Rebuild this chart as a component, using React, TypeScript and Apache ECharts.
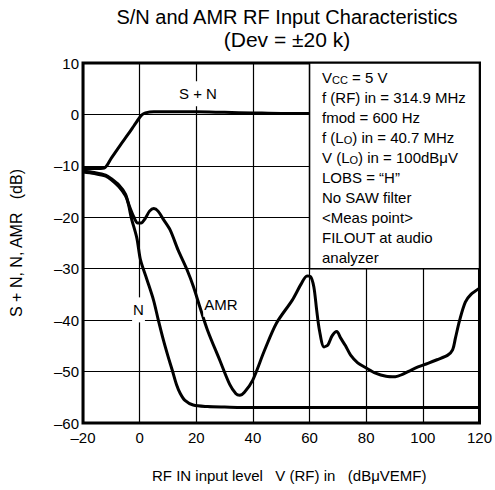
import React, { useEffect, useRef } from "react";
import * as echarts from "echarts";

const xTicks = [-20, 0, 20, 40, 60, 80, 100, 120];
const yTicks = [-60, -50, -40, -30, -20, -10, 0, 10];

const snX = [-20, -16, -12.5, -10, -7, -4, -2, 0, 1, 2, 5, 10, 20, 30, 40, 50, 60];
const snY = [-10.5, -10.5, -10.4, -8.5, -6.1, -3.8, -2.2, -0.6, 0, 0.3, 0.5, 0.5, 0.5, 0.4, 0.3, 0.2, 0.2];

const nX = [-20, -16, -12, -10, -7.4, -5, -3.9, -3, -1, 0.3, 2.5, 4.9, 6.6, 8.4, 10, 11.5, 13, 14.3, 16, 18.9, 24, 30, 40, 60, 80, 100, 120];
const nY = [-11, -11.3, -11.8, -12.5, -13.7, -15.5, -17.6, -20, -24, -28.3, -32, -36.1, -40, -43.9, -47, -49.7, -52.5, -54.2, -55.6, -56.5, -56.8, -56.9, -57, -57, -57, -57, -57];

const amrX = [-20, -16, -12, -10, -7.4, -5, -3.5, -2, -0.7, 0.5, 2, 3.5, 5, 6.5, 8.5, 10.8, 13.6, 16.8, 19, 21.3, 24, 28.3, 31.8, 34, 35.3, 37, 39.9, 44, 48.3, 53.9, 57, 59.1, 60.3, 61.5, 62.5, 63.5, 65.1, 66.5, 68, 69.6, 71, 72.7, 74.5, 77, 80, 83.3, 87, 90.3, 93, 95.9, 98.3, 101.8, 105, 108.8, 110.5, 111.5, 113, 115, 117, 120];
const amrY = [-11.2, -11.5, -12, -12.7, -14, -15.8, -18, -20, -21.1, -21.1, -20.2, -18.8, -18.3, -18.8, -20.5, -22.5, -26.4, -30.3, -33.5, -37.5, -42, -47.8, -52.5, -54.3, -54.6, -54, -51.7, -46, -40.6, -36.1, -33, -31.4, -31.5, -33.5, -38, -42, -45.2, -44.8, -43, -42.2, -43.5, -45, -46.8, -48.3, -49.3, -50.3, -50.9, -51, -50.5, -49.7, -49.1, -48.4, -47.7, -46.8, -45.8, -43.5, -40, -36.5, -35, -33.8];

const legendLines = [
  "V{sub|CC} = 5 V",
  "f (RF) in = 314.9 MHz",
  "fmod = 600 Hz",
  "f (L{sub|O}) in = 40.7 MHz",
  "V (L{sub|O}) in = 100dBμV",
  "LOBS = “H”",
  "No SAW filter",
  "<Meas point>",
  "FILOUT at audio",
  "analyzer",
];

const boxX = [60, 120];
const boxY = [-30, 10];

const zip = (xs: number[], ys: number[]) => xs.map((x, i) => [x, ys[i]]);

const FONT = "Liberation Sans, Arial, sans-serif";
const dash = (v: number) => String(v).replace("-", "\u2013");

const curveLabel = (text: string, coord: number[]) => ({
  symbol: "circle",
  symbolSize: 0,
  silent: true,
  label: {
    show: true,
    position: "inside",
    formatter: text,
    color: "#000",
    fontSize: 15,
    fontFamily: FONT,
    backgroundColor: "#fff",
    padding: [5, 1, 5, 1],
  },
  data: [{ coord }],
});

export default function App() {
  const ref = useRef<HTMLDivElement>(null);
  useEffect(() => {
    if (!ref.current) return;
    const chart = echarts.init(ref.current, null, { renderer: "svg" });
    const lineStyle = { color: "#000", width: 3 };
    chart.setOption({
      animation: false,
      backgroundColor: "#fff",
      title: {
        text: "{a|S/N and AMR RF Input Characteristics}\n{b|(Dev = ±20 k)}",
        left: 282,
        textAlign: "center",
        top: 0,
        textStyle: {
          color: "#000",
          fontFamily: FONT,
          fontWeight: "normal",
          rich: {
            a: { fontSize: 20, lineHeight: 23, color: "#000", fontFamily: FONT, fontWeight: "normal" },
            b: { fontSize: 21, lineHeight: 23, color: "#000", fontFamily: FONT, fontWeight: "normal" },
          },
        },
      },
      grid: {
        left: 82,
        right: 13,
        top: 63,
        bottom: 67,
        show: true,
        borderColor: "#000",
        borderWidth: 3,
        backgroundColor: "transparent",
      },
      xAxis: {
        type: "value",
        min: xTicks[0],
        max: xTicks[xTicks.length - 1],
        interval: 20,
        axisLine: { show: false },
        axisTick: { show: false },
        axisLabel: { color: "#000", fontSize: 15, fontFamily: FONT, margin: 7, formatter: dash },
        splitLine: { show: true, lineStyle: { color: "#000", width: 1.2 } },
        name: "RF IN input level   V (RF) in   (dBμVEMF)",
        nameLocation: "middle",
        nameGap: 45,
        nameTextStyle: { color: "#000", fontSize: 15, fontFamily: FONT, padding: [0, 0, 0, 16] },
      },
      yAxis: {
        type: "value",
        min: yTicks[0],
        max: yTicks[yTicks.length - 1],
        interval: 10,
        axisLine: { show: false },
        axisTick: { show: false },
        axisLabel: { color: "#000", fontSize: 15, fontFamily: FONT, margin: 4, formatter: dash },
        splitLine: { show: true, lineStyle: { color: "#000", width: 1.2 } },
        name: "S + N, N, AMR   (dB)",
        nameLocation: "middle",
        nameGap: 59,
        nameTextStyle: { color: "#000", fontSize: 16, fontFamily: FONT },
      },
      series: [
        {
          name: "S + N",
          type: "line",
          data: zip(snX, snY),
          smooth: 0.3,
          showSymbol: false,
          lineStyle,
          z: 2,
          markPoint: curveLabel("S + N", [20.6, 4]),
        },
        {
          name: "N",
          type: "line",
          data: zip(nX, nY),
          smooth: 0.3,
          showSymbol: false,
          lineStyle,
          z: 2,
          markPoint: curveLabel("N", [-0.4, -38]),
        },
        {
          name: "AMR",
          type: "line",
          data: zip(amrX, amrY),
          smooth: 0.3,
          showSymbol: false,
          lineStyle,
          z: 2,
          markPoint: curveLabel("AMR", [28.7, -36.9]),
        },
        {
          name: "box",
          type: "line",
          data: [],
          z: 5,
          markArea: {
            silent: true,
            itemStyle: { color: "#fff", borderColor: "#000", borderWidth: 1.5, opacity: 1 },
            data: [[{ coord: [boxX[0], boxY[1]] }, { coord: [boxX[1], boxY[0]] }]],
          },
        },
      ],
      graphic: [
        {
          type: "text",
          left: 322,
          top: 67,
          z: 100,
          style: {
            text: legendLines.join("\n"),
            fill: "#000",
            fontSize: 15,
            fontFamily: FONT,
            lineHeight: 20,
            rich: {
              sub: { fontSize: 11, fontFamily: FONT, fill: "#000", lineHeight: 20, padding: [6, 0, 0, 0] },
            },
          },
        },
      ],
    });
    return () => chart.dispose();
  }, []);
  return <div ref={ref} style={{ position: "fixed", left: 0, top: 0, width: 495, height: 490 }} />;
}
